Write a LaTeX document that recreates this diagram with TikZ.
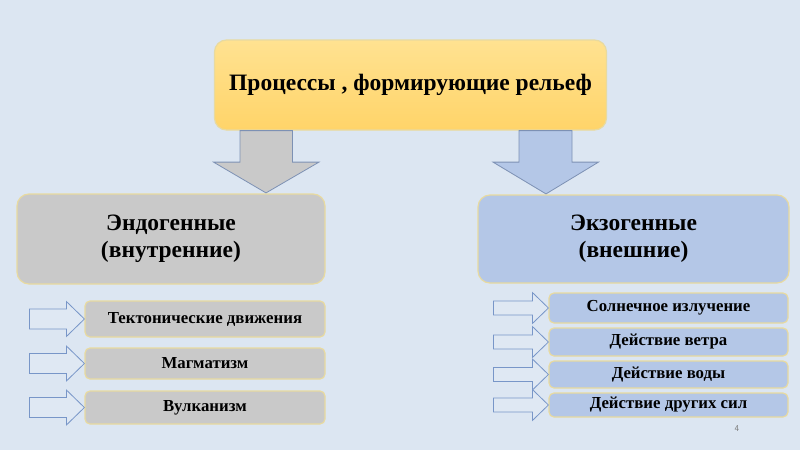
\documentclass[tikz,border=0pt]{standalone}
\usepackage{fontspec}
\setmainfont{Liberation Serif}
\usetikzlibrary{calc}
\definecolor{bg}{RGB}{220,230,242}
\definecolor{boxedge}{RGB}{232,218,160}
\definecolor{greyfill}{RGB}{201,201,201}
\definecolor{bluefill}{RGB}{180,199,231}
\definecolor{arrowedge}{RGB}{125,145,180}
\definecolor{smalledge}{RGB}{120,150,200}
\definecolor{orangetop}{RGB}{255,226,145}
\definecolor{orangebot}{RGB}{255,212,105}
\tikzset{
  x=1pt,y=-1pt,
  bigbox/.style={rectangle,rounded corners=12pt,draw=boxedge,line width=1.2pt,align=center,font=\bfseries\fontsize{23.5}{27}\selectfont,inner sep=0pt},
  smallbox/.style={rectangle,rounded corners=5pt,draw=boxedge,line width=1.2pt,align=center,font=\bfseries\fontsize{16.8}{18}\selectfont,inner sep=0pt,minimum width=240pt},
  blockarrow/.style={draw=arrowedge,line width=0.8pt,line join=miter},
  smallarrow/.style={draw=smalledge,fill=bg!92!white,line width=0.8pt},
}
\begin{document}
\begin{tikzpicture}
\fill[bg] (0,0) rectangle (800,450);
\useasboundingbox (0,0) rectangle (800,450);

\node[bigbox,top color=orangetop,bottom color=orangebot,minimum width=392pt,minimum height=90pt] (top) at (410.5,85) {Процессы , формирующие рельеф};

\node[bigbox,fill=greyfill,minimum width=308pt,minimum height=90pt] (endo) at (171,239) {Эндогенные\\(внутренние)};
\node[bigbox,fill=bluefill,minimum width=311pt,minimum height=88pt] (exo) at (633.5,239) {Экзогенные\\(внешние)};

% big arrows
\draw[blockarrow,fill=greyfill] ($(top.south)+(-170.5,0)$) -- ++(0,31.5) -- ++(-26.5,0) -- ($(endo.north)+(95,-0.5)$) -- ++(53,-30.8) -- ++(-26.5,0) -- ++(0,-31.5) -- cycle;
\draw[blockarrow,fill=bluefill] ($(top.south)+(108.5,0)$) -- ++(0,31.5) -- ++(-26,0) -- ($(exo.north)+(-87.5,-0.5)$) -- ++(52.5,-31.8) -- ++(-26.5,0) -- ++(0,-31.5) -- cycle;

% left small boxes
\node[smallbox,fill=greyfill,minimum height=36pt] (t1) at (205,319) {Тектонические движения};
\node[smallbox,fill=greyfill,minimum height=31pt] (t2) at (205,363.5) {Магматизм};
\node[smallbox,fill=greyfill,minimum height=33pt] (t3) at (205,407.5) {Вулканизм};

% right small boxes
\node[smallbox,fill=bluefill,minimum width=239pt,minimum height=30pt] (r1) at (668.5,308) {Солнечное излучение};
\node[smallbox,fill=bluefill,minimum width=239pt,minimum height=28pt] (r2) at (668.5,342) {Действие ветра};
\node[smallbox,fill=bluefill,minimum width=239pt,minimum height=27pt] (r3) at (668.5,374.5) {Действие воды};
\node[smallbox,fill=bluefill,minimum width=239pt,minimum height=24pt] (r4) at (668.5,405) {Действие других сил};

% left small arrows
\foreach \n in {t1,t2,t3}{
  \draw[smallarrow] ($(\n.west)+(-55,-10)$) -- ++(37,0) -- ++(0,-7.5) -- ($(\n.west)$) -- ++(-18,17.5) -- ++(0,-7.5) -- ++(-37,0) -- cycle;
}
% right small arrows
\foreach \n in {r1,r2,r3,r4}{
  \draw[smallarrow] ($(\n.west)+(-55,-7)$) -- ++(39,0) -- ++(0,-8.5) -- ($(\n.west)$) -- ++(-16,15.5) -- ++(0,-8.5) -- ++(-39,0) -- cycle;
}

\node[font=\sffamily\fontsize{9}{10}\selectfont,text=gray] (pg) at (737,429) {4};
\end{tikzpicture}
\end{document}
